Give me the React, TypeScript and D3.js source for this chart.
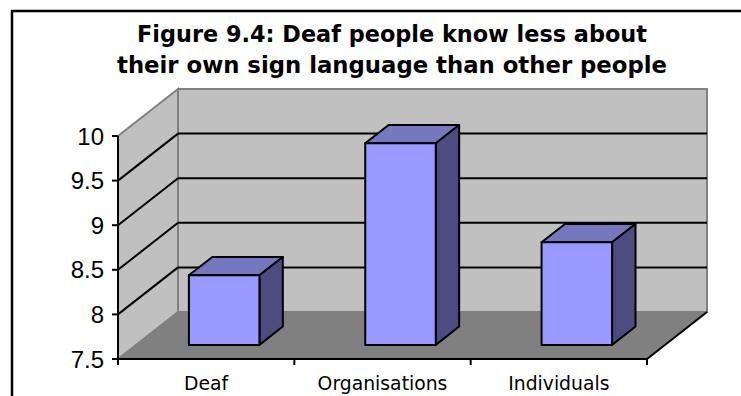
import React from "react";
import * as d3 from "d3";

const categories: string[] = ["Deaf", "Organisations", "Individuals"];
const values: number[] = [8.28, 9.76, 8.65];
const yTicks: number[] = [7.5, 8, 8.5, 9, 9.5, 10];
const yTickLabels: string[] = ["7.5", "8", "8.5", "9", "9.5", "10"];
const titleLines: string[] = [
  "Figure 9.4: Deaf people know less about",
  "their own sign language than other people",
];

const W = 741;
const H = 396;
const DX = 60; // depth offset x
const DY = -47; // depth offset y
const BAR_F0 = 0.3; // depth fraction where bar front sits
const BAR_F1 = 0.39; // depth fraction of bar thickness

export default function App() {
  const y = d3.scaleLinear().domain([7.5, 10]).range([359, 136]);
  const x = d3.scaleBand<string>().domain(categories).range([118, 647]).padding(0);
  const x0 = 118, x1 = 647;
  const yBot = y(7.5), yTop = y(10);
  const barW = x.bandwidth() * 0.4;

  const pts = (arr: [number, number][]) => arr.map((p) => p.join(",")).join(" ");

  const gridVals = yTicks.filter((t) => t > 7.5 && t < 10);

  return (
    <svg
      width={W}
      height={H}
      style={{ position: "absolute", left: 0, top: 0, background: "#fff" }}
    >
      {/* outer border */}
      <path d={`M12,${H + 5} V11 H${W + 5}`} fill="none" stroke="#000" strokeWidth={2.5} />

      {/* title */}
      {titleLines.map((t, i) => (
        <text
          key={i}
          x={392}
          y={42 + i * 31}
          textAnchor="middle"
          fontFamily="DejaVu Sans, Verdana, sans-serif"
          fontWeight="bold"
          fontSize={23}
          textLength={i === 0 ? 510 : 550}
          lengthAdjust="spacingAndGlyphs"
          fill="#000"
        >
          {t}
        </text>
      ))}

      {/* side wall */}
      <polygon
        points={pts([
          [x0, yBot],
          [x0, yTop],
          [x0 + DX, yTop + DY],
          [x0 + DX, yBot + DY],
        ])}
        fill="#C0C0C0"
        stroke="#808080"
        strokeWidth={2}
      />
      {/* back wall */}
      <polygon
        points={pts([
          [x0 + DX, yBot + DY],
          [x0 + DX, yTop + DY],
          [x1 + DX, yTop + DY],
          [x1 + DX, yBot + DY],
        ])}
        fill="#C0C0C0"
        stroke="#808080"
        strokeWidth={2}
      />
      {/* floor */}
      <polygon
        points={pts([
          [x0, yBot],
          [x1, yBot],
          [x1 + DX, yBot + DY],
          [x0 + DX, yBot + DY],
        ])}
        fill="#808080"
        stroke="#808080"
        strokeWidth={1}
      />
      {/* gridlines */}
      {gridVals.map((t) => (
        <g key={t}>
          <line x1={x0} y1={y(t)} x2={x0 + DX} y2={y(t) + DY} stroke="#000" strokeWidth={2} />
          <line x1={x0 + DX} y1={y(t) + DY} x2={x1 + DX} y2={y(t) + DY} stroke="#000" strokeWidth={2} />
        </g>
      ))}
      {/* floor right edge */}
      <line x1={x1} y1={yBot} x2={x1 + DX} y2={yBot + DY} stroke="#000" strokeWidth={2} />

      {/* bars */}
      {categories.map((c, i) => {
        const cx = (x(c) as number) + x.bandwidth() / 2 + DX * BAR_F0;
        const fx0 = cx - barW / 2;
        const fx1 = cx + barW / 2;
        const fb = y(7.5) + DY * BAR_F0;
        const ft = y(values[i]) + DY * BAR_F0;
        const ddx = DX * BAR_F1;
        const ddy = DY * BAR_F1;
        return (
          <g key={c} stroke="#000" strokeWidth={2} strokeLinejoin="round">
            <polygon
              points={pts([
                [fx0, ft],
                [fx0 + ddx, ft + ddy],
                [fx1 + ddx, ft + ddy],
                [fx1, ft],
              ])}
              fill="#7777C0"
            />
            <polygon
              points={pts([
                [fx1, ft],
                [fx1 + ddx, ft + ddy],
                [fx1 + ddx, fb + ddy],
                [fx1, fb],
              ])}
              fill="#4C4C80"
            />
            <rect x={fx0} y={ft} width={fx1 - fx0} height={fb - ft} fill="#9999FF" />
          </g>
        );
      })}

      {/* y axis */}
      <line x1={x0} y1={yTop} x2={x0} y2={yBot} stroke="#000" strokeWidth={2} />
      {yTicks.map((t, i) => (
        <g key={t}>
          <line x1={x0 - 6} y1={y(t)} x2={x0} y2={y(t)} stroke="#000" strokeWidth={2} />
          <text
            x={104}
            y={y(t) + 8.5}
            textAnchor="end"
            fontFamily="Liberation Sans, Arial, sans-serif"
            fontSize={24}
            fill="#000"
          >
            {yTickLabels[i]}
          </text>
        </g>
      ))}

      {/* x axis */}
      <line x1={x0} y1={yBot} x2={x1} y2={yBot} stroke="#000" strokeWidth={2} />
      {[...categories.map((c) => x(c) as number), x1].map((px, i) => (
        <line key={i} x1={px} y1={yBot} x2={px} y2={yBot + 6} stroke="#000" strokeWidth={2} />
      ))}
      {categories.map((c) => (
        <text
          key={c}
          x={(x(c) as number) + x.bandwidth() / 2}
          y={390}
          textAnchor="middle"
          fontFamily="DejaVu Sans, Verdana, sans-serif"
          fontSize={18.8}
          fill="#000"
        >
          {c}
        </text>
      ))}
    </svg>
  );
}
